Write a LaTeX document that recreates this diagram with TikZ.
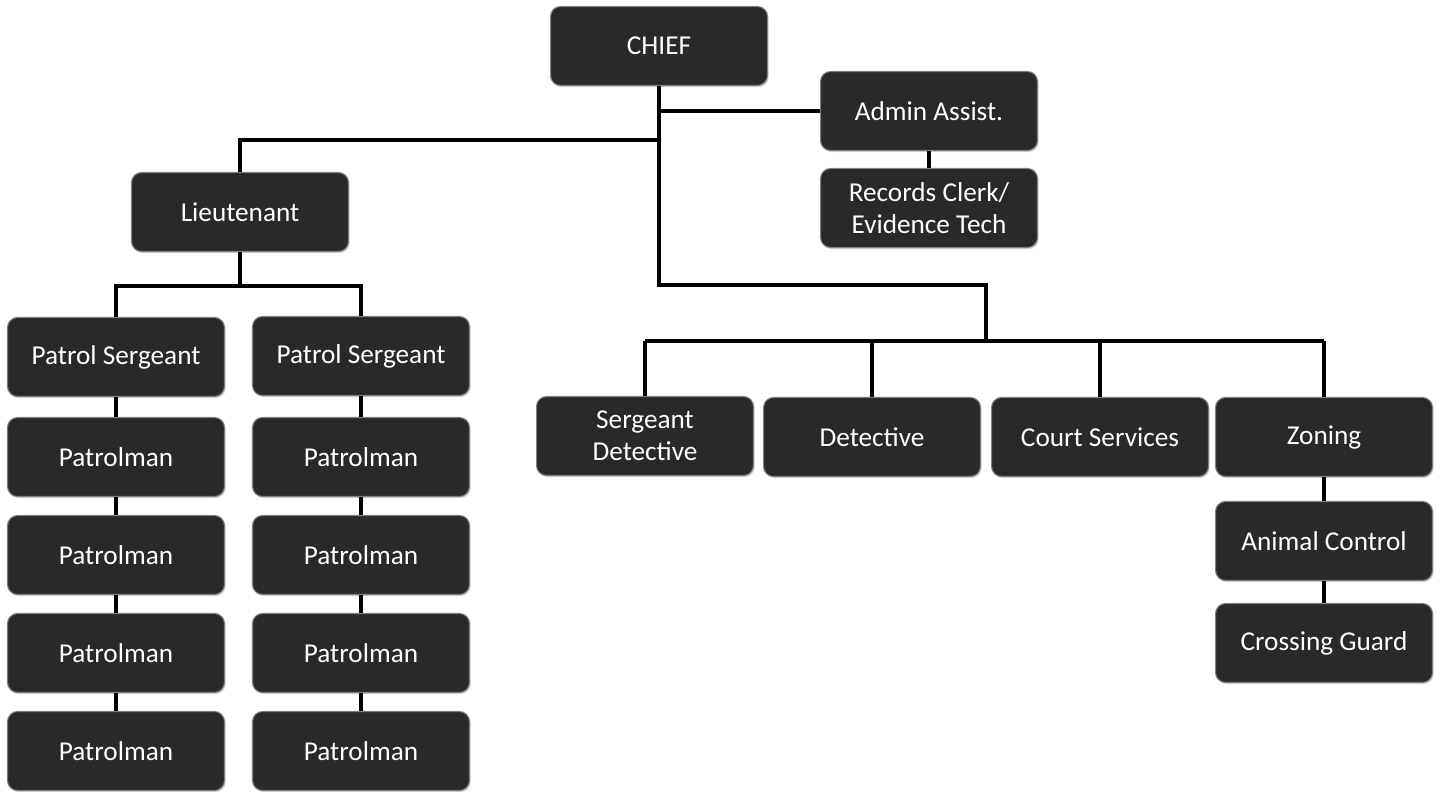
\documentclass[tikz,border=0pt]{standalone}
\usepackage{fontspec}
\setmainfont{Carlito}
\usetikzlibrary{shadows}
\tikzset{
  unit/.style={rectangle, rounded corners=0.2cm, fill=black!84, draw=black!50, line width=0.6pt,
    minimum width=4.34cm, minimum height=1.58cm, inner sep=0pt, align=center,
    text=white!94, font=\fontsize{15.5}{18.5}\selectfont,
    drop shadow={shadow xshift=0.7pt, shadow yshift=-0.9pt, opacity=0.35}},
  link/.style={line width=2pt, black}
}
\begin{document}
\begin{tikzpicture}[x=0.02cm, y=-0.02cm]
				\useasboundingbox (0,0) rectangle (1442,791);
				% junctions
				\coordinate (jlt) at (659,140);
				\coordinate (jmid) at (659,285);
				\coordinate (bus) at (986,341);
				\coordinate (ltbus) at (238,286);
				% boxes
				\node[unit] (chief) at (659,46) {CHIEF};
				\node[unit] (admin) at (929,111) {Admin Assist.};
				\node[unit] (rec) at (929,208) {Records Clerk/\\Evidence Tech};
				\node[unit] (lt) at (240,212) {Lieutenant};
				\node[unit] (ps1) at (116,357) {Patrol Sergeant};
				\node[unit] (ps2) at (361,356) {Patrol Sergeant};
				\foreach \i/\y in {1/457,2/555,3/653,4/751}
				{
				\node[unit] (pa\i) at (116,\y) {Patrolman};
				\node[unit] (pb\i) at (361,\y) {Patrolman};
				}
				\node[unit] (sgtdet) at (645,436) {Sergeant\\Detective};
				\node[unit] (det) at (872,437) {Detective};
				\node[unit] (court) at (1100,437) {Court Services};
				\node[unit] (zoning) at (1324,437) {Zoning};
				\node[unit] (animal) at (1324,541) {Animal Control};
				\node[unit] (cross) at (1324,643) {Crossing Guard};
				% lines
				\draw[link] (chief.south) -- (jmid) -| (bus);
				\draw[link] (chief.south |- admin.west) -- (admin.west);
				\draw[link] (jlt) -| (lt.north);
				\draw[link] (admin.south) -- (rec.north);
				\draw[link] (sgtdet.north |- bus) -- (zoning.north |- bus);
				\foreach \n in {sgtdet,det,court,zoning}
				\draw[link] (\n.north |- bus) -- (\n.north);
				\draw[link] (zoning.south) -- (animal.north);
				\draw[link] (animal.south) -- (cross.north);
				\draw[link] (lt.south |- lt.south) -- (lt.south |- ltbus);
				\draw[link] (ps1.north) |- (ltbus) -| (ps2.north);
				\draw[link] (ps1.south) -- (pa1.north);
				\draw[link] (ps2.south) -- (pb1.north);
				\foreach \i/\j in {1/2,2/3,3/4}
				{
				\draw[link] (pa\i.south) -- (pa\j.north);
				\draw[link] (pb\i.south) -- (pb\j.north);
				}
			\end{tikzpicture}
\end{document}
